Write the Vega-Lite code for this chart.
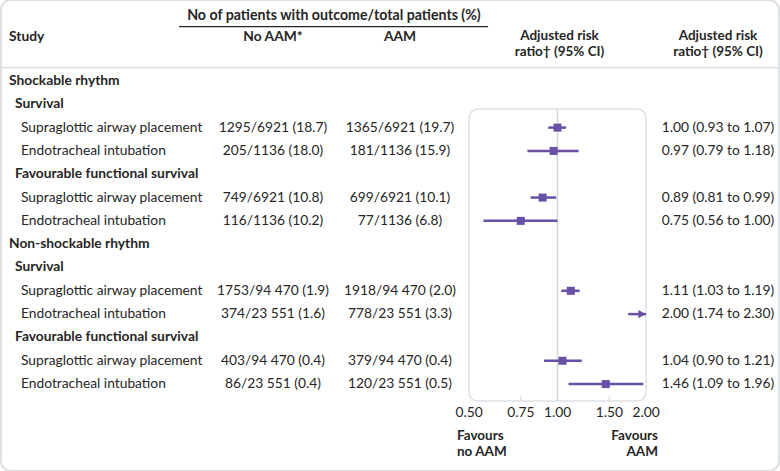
{
  "$schema": "https://vega.github.io/schema/vega-lite/v6.json",
  "width": 780,
  "height": 471,
  "autosize": {"type": "fit", "contains": "padding"},
  "padding": 0,
  "background": "white",
  "config": {
    "view": {"stroke": "#dde1e6", "strokeWidth": 2, "cornerRadius": 10},
    "text": {"font": "Lato", "fontSize": 13.8, "color": "#262626"}
  },
  "datasets": {
    "rows": [
      {"row": 0, "level": 0, "label": "Shockable rhythm"},
      {"row": 1, "level": 1, "label": "Survival"},
      {"row": 2, "level": 2, "label": "Supraglottic airway placement", "noaam": "1295/6921 (18.7)", "aam": "1365/6921 (19.7)", "rr": 1.00, "lo": 0.93, "hi": 1.07, "ci": "1.00 (0.93 to 1.07)"},
      {"row": 3, "level": 2, "label": "Endotracheal intubation", "noaam": "205/1136 (18.0)", "aam": "181/1136 (15.9)", "rr": 0.97, "lo": 0.79, "hi": 1.18, "ci": "0.97 (0.79 to 1.18)"},
      {"row": 4, "level": 1, "label": "Favourable functional survival"},
      {"row": 5, "level": 2, "label": "Supraglottic airway placement", "noaam": "749/6921 (10.8)", "aam": "699/6921 (10.1)", "rr": 0.89, "lo": 0.81, "hi": 0.99, "ci": "0.89 (0.81 to 0.99)"},
      {"row": 6, "level": 2, "label": "Endotracheal intubation", "noaam": "116/1136 (10.2)", "aam": "77/1136 (6.8)", "rr": 0.75, "lo": 0.56, "hi": 1.00, "ci": "0.75 (0.56 to 1.00)"},
      {"row": 7, "level": 0, "label": "Non-shockable rhythm"},
      {"row": 8, "level": 1, "label": "Survival"},
      {"row": 9, "level": 2, "label": "Supraglottic airway placement", "noaam": "1753/94 470 (1.9)", "aam": "1918/94 470 (2.0)", "rr": 1.11, "lo": 1.03, "hi": 1.19, "ci": "1.11 (1.03 to 1.19)"},
      {"row": 10, "level": 2, "label": "Endotracheal intubation", "noaam": "374/23 551 (1.6)", "aam": "778/23 551 (3.3)", "rr": 2.00, "lo": 1.74, "hi": 2.30, "ci": "2.00 (1.74 to 2.30)"},
      {"row": 11, "level": 1, "label": "Favourable functional survival"},
      {"row": 12, "level": 2, "label": "Supraglottic airway placement", "noaam": "403/94 470 (0.4)", "aam": "379/94 470 (0.4)", "rr": 1.04, "lo": 0.90, "hi": 1.21, "ci": "1.04 (0.90 to 1.21)"},
      {"row": 13, "level": 2, "label": "Endotracheal intubation", "noaam": "86/23 551 (0.4)", "aam": "120/23 551 (0.5)", "rr": 1.46, "lo": 1.09, "hi": 1.96, "ci": "1.46 (1.09 to 1.96)"}
    ],
    "ticks": [{"v": 0.5}, {"v": 0.75}, {"v": 1.0}, {"v": 1.5}, {"v": 2.0}],
    "one": [{}]
  },
  "layer": [
    {
      "layer": [
        {
          "data": {"name": "one"},
          "mark": {"type": "rule", "stroke": "#dde1e6", "strokeWidth": 1.5},
          "encoding": {
            "y": {"datum": -0.57, "type": "quantitative", "scale": {"domain": [-3.475, 16.73], "reverse": true, "nice": false, "zero": false}, "axis": null}
          }
        },
        {
          "data": {"name": "rows"},
          "transform": [{"filter": "datum.level < 2"}],
          "mark": {"type": "text", "align": "left", "baseline": "middle", "fontWeight": "bold"},
          "encoding": {
            "x": {"field": "level", "type": "quantitative", "scale": {"domain": [0, 2], "range": [8, 20], "nice": false, "zero": false}, "axis": null},
            "y": {"field": "row", "type": "quantitative", "axis": null},
            "text": {"field": "label"}
          }
        },
        {
          "data": {"name": "rows"},
          "transform": [{"filter": "datum.level == 2"}],
          "mark": {"type": "text", "align": "left", "baseline": "middle"},
          "encoding": {
            "x": {"field": "level", "type": "quantitative"},
            "y": {"field": "row", "type": "quantitative"},
            "text": {"field": "label"}
          }
        },
        {
          "data": {"name": "one"},
          "mark": {"type": "text", "align": "left", "baseline": "middle", "fontWeight": "bold", "text": "Study"},
          "encoding": {
            "x": {"datum": 0, "type": "quantitative"},
            "y": {"datum": -1.888, "type": "quantitative"}
          }
        }
      ]
    },
    {
      "layer": [
        {
          "data": {"name": "rows"},
          "transform": [{"filter": "isValid(datum.noaam)"}],
          "mark": {"type": "text", "align": "center", "baseline": "middle"},
          "encoding": {
            "x": {"datum": 1, "type": "quantitative", "scale": {"domain": [1, 2, 3], "range": [272, 399, 717], "nice": false, "zero": false}, "axis": null},
            "y": {"field": "row", "type": "quantitative", "axis": null},
            "text": {"field": "noaam"}
          }
        },
        {
          "data": {"name": "rows"},
          "transform": [{"filter": "isValid(datum.aam)"}],
          "mark": {"type": "text", "align": "center", "baseline": "middle"},
          "encoding": {
            "x": {"datum": 2, "type": "quantitative"},
            "y": {"field": "row", "type": "quantitative"},
            "text": {"field": "aam"}
          }
        },
        {
          "data": {"name": "rows"},
          "transform": [{"filter": "isValid(datum.ci)"}],
          "mark": {"type": "text", "align": "center", "baseline": "middle"},
          "encoding": {
            "x": {"datum": 3, "type": "quantitative"},
            "y": {"field": "row", "type": "quantitative"},
            "text": {"field": "ci"}
          }
        },
        {
          "data": {"name": "one"},
          "mark": {"type": "text", "align": "center", "baseline": "middle", "fontWeight": "bold", "fontSize": 14.2, "text": "No of patients with outcome/total patients (%)"},
          "encoding": {
            "x": {"datum": 1.48, "type": "quantitative"},
            "y": {"datum": -2.79, "type": "quantitative"}
          }
        },
        {
          "data": {"name": "one"},
          "mark": {"type": "rule", "stroke": "#262626", "strokeWidth": 1.2},
          "encoding": {
            "x": {"datum": 0.26, "type": "quantitative"},
            "x2": {"datum": 2.277},
            "y": {"datum": -2.33, "type": "quantitative"}
          }
        },
        {
          "data": {"name": "one"},
          "mark": {"type": "text", "align": "center", "baseline": "middle", "fontWeight": "bold", "text": "No AAM*"},
          "encoding": {
            "x": {"datum": 1, "type": "quantitative"},
            "y": {"datum": -1.888, "type": "quantitative"}
          }
        },
        {
          "data": {"name": "one"},
          "mark": {"type": "text", "align": "center", "baseline": "middle", "fontWeight": "bold", "text": "AAM"},
          "encoding": {
            "x": {"datum": 2, "type": "quantitative"},
            "y": {"datum": -1.888, "type": "quantitative"}
          }
        },
        {
          "data": {"name": "one"},
          "mark": {"type": "text", "align": "center", "baseline": "middle", "fontWeight": "bold", "fontSize": 13.5, "text": "Adjusted risk"},
          "encoding": {
            "x": {"datum": 3, "type": "quantitative"},
            "y": {"datum": -1.93, "type": "quantitative"}
          }
        },
        {
          "data": {"name": "one"},
          "mark": {"type": "text", "align": "center", "baseline": "middle", "fontWeight": "bold", "fontSize": 13.5, "text": "ratio† (95% CI)"},
          "encoding": {
            "x": {"datum": 3, "type": "quantitative"},
            "y": {"datum": -1.245, "type": "quantitative"}
          }
        }
      ]
    },
    {
      "layer": [
        {
          "data": {"name": "one"},
          "mark": {"type": "rect", "fill": "white", "stroke": "#dde1e6", "strokeWidth": 1.5, "cornerRadius": 9},
          "encoding": {
            "x": {"datum": 0.5, "type": "quantitative", "scale": {"type": "log", "domain": [0.5, 2], "range": [468, 645], "nice": false, "zero": false, "clamp": true}, "axis": null},
            "x2": {"datum": 2},
            "y": {"datum": 1.2, "type": "quantitative"},
            "y2": {"datum": 13.73}
          }
        },
        {
          "data": {"name": "one"},
          "mark": {"type": "rule", "stroke": "#d3d7dd", "strokeWidth": 1.5},
          "encoding": {
            "x": {"datum": 1, "type": "quantitative"},
            "y": {"datum": 1.2, "type": "quantitative"},
            "y2": {"datum": 13.73}
          }
        },
        {
          "data": {"name": "ticks"},
          "transform": [{"filter": "datum.v == 0.75 || datum.v == 1.5"}],
          "mark": {"type": "rule", "stroke": "#d3d7dd", "strokeWidth": 1},
          "encoding": {
            "x": {"field": "v", "type": "quantitative"},
            "y": {"datum": 13.5, "type": "quantitative"},
            "y2": {"datum": 13.73}
          }
        },
        {
          "data": {"name": "rows"},
          "transform": [{"filter": "isValid(datum.rr)"}],
          "mark": {"type": "rule", "stroke": "#6750a6", "strokeWidth": 2.5},
          "encoding": {
            "x": {"field": "lo", "type": "quantitative"},
            "x2": {"field": "hi"},
            "y": {"field": "row", "type": "quantitative"}
          }
        },
        {
          "data": {"name": "rows"},
          "transform": [{"filter": "isValid(datum.rr) && datum.hi <= 2"}],
          "mark": {"type": "point", "shape": "square", "filled": true, "size": 64, "color": "#6750a6", "opacity": 1},
          "encoding": {
            "x": {"field": "rr", "type": "quantitative"},
            "y": {"field": "row", "type": "quantitative"}
          }
        },
        {
          "data": {"name": "rows"},
          "transform": [{"filter": "isValid(datum.rr) && datum.hi > 2"}],
          "mark": {"type": "point", "shape": "triangle-right", "filled": true, "size": 70, "color": "#6750a6", "opacity": 1, "xOffset": -4},
          "encoding": {
            "x": {"field": "hi", "type": "quantitative"},
            "y": {"field": "row", "type": "quantitative"}
          }
        },
        {
          "data": {"name": "ticks"},
          "mark": {"type": "text", "align": "center", "baseline": "middle"},
          "encoding": {
            "x": {"field": "v", "type": "quantitative"},
            "y": {"datum": 14.25, "type": "quantitative"},
            "text": {"field": "v", "type": "quantitative", "format": ".2f"}
          }
        },
        {
          "data": {"name": "one"},
          "mark": {"type": "text", "align": "left", "baseline": "middle", "fontWeight": "bold", "fontSize": 13.5, "dx": -12, "text": "Favours"},
          "encoding": {
            "x": {"datum": 0.5, "type": "quantitative"},
            "y": {"datum": 15.215, "type": "quantitative"}
          }
        },
        {
          "data": {"name": "one"},
          "mark": {"type": "text", "align": "left", "baseline": "middle", "fontWeight": "bold", "fontSize": 13.5, "dx": -12, "text": "no AAM"},
          "encoding": {
            "x": {"datum": 0.5, "type": "quantitative"},
            "y": {"datum": 15.9, "type": "quantitative"}
          }
        },
        {
          "data": {"name": "one"},
          "mark": {"type": "text", "align": "right", "baseline": "middle", "fontWeight": "bold", "fontSize": 13.5, "dx": 12, "text": "Favours"},
          "encoding": {
            "x": {"datum": 2, "type": "quantitative"},
            "y": {"datum": 15.215, "type": "quantitative"}
          }
        },
        {
          "data": {"name": "one"},
          "mark": {"type": "text", "align": "right", "baseline": "middle", "fontWeight": "bold", "fontSize": 13.5, "dx": 12, "text": "AAM"},
          "encoding": {
            "x": {"datum": 2, "type": "quantitative"},
            "y": {"datum": 15.9, "type": "quantitative"}
          }
        },
        {
          "data": {"name": "one"},
          "mark": {"type": "text", "align": "center", "baseline": "middle", "fontWeight": "bold", "fontSize": 13.5, "dx": 2, "text": "Adjusted risk"},
          "encoding": {
            "x": {"datum": 1, "type": "quantitative"},
            "y": {"datum": -1.93, "type": "quantitative"}
          }
        },
        {
          "data": {"name": "one"},
          "mark": {"type": "text", "align": "center", "baseline": "middle", "fontWeight": "bold", "fontSize": 13.5, "dx": 2, "text": "ratio† (95% CI)"},
          "encoding": {
            "x": {"datum": 1, "type": "quantitative"},
            "y": {"datum": -1.245, "type": "quantitative"}
          }
        }
      ]
    }
  ],
  "resolve": {"scale": {"x": "independent"}}
}
